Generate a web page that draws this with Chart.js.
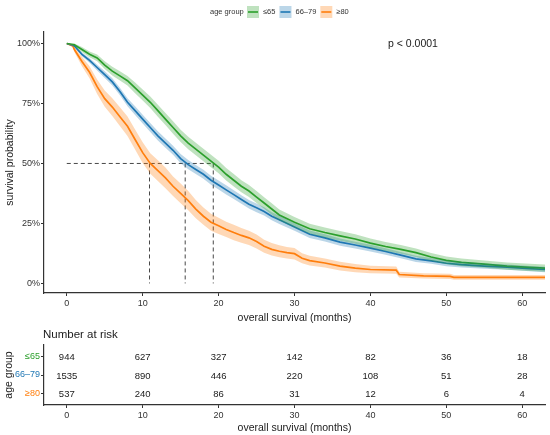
<!DOCTYPE html>
<html>
<head>
<meta charset="utf-8">
<script src="https://cdn.jsdelivr.net/npm/chart.js@4.4.0/dist/chart.umd.min.js"></script>
<style>
  body { margin: 0; background: #fff; }
  #top { position: absolute; left: 0; top: 0; width: 550px; height: 325px; }
  #bottom { position: absolute; left: 0; top: 325px; width: 550px; height: 110px; }
</style>
</head>
<body>
<div id="top"><canvas id="kmChart"></canvas></div>
<div id="bottom"><canvas id="riskChart"></canvas></div>
<script>
var groups = ["≤65", "66–79", "≥80"];
var lineColors = ["#2ca02c", "#1f77b4", "#ff7f0e"];
var bandColors = ["rgba(44,160,44,0.3)", "rgba(31,119,180,0.3)", "rgba(255,127,14,0.3)"];

// ≤65
var timeLe65 = [0, 1, 2, 3, 4, 5, 6, 7, 8, 9, 10, 11, 12, 13, 14, 15, 16, 17, 18, 19, 20, 21, 22, 23, 24, 25, 26, 27, 28, 30, 32, 34, 36, 38, 40, 42, 44, 46, 48, 50, 52, 55, 58, 61, 63];
var survLe65 = [1.0, .995, .975, .955, .94, .91, .885, .865, .845, .815, .785, .755, .72, .685, .65, .615, .585, .56, .535, .51, .485, .455, .43, .405, .385, .36, .335, .31, .285, .255, .228, .212, .198, .185, .168, .154, .142, .128, .11, .096, .088, .08, .072, .067, .064];
var lowerLe65 = [1.0, .99, .965, .943, .926, .894, .867, .846, .825, .793, .762, .731, .695, .66, .624, .589, .559, .534, .509, .484, .459, .429, .404, .38, .36, .335, .311, .286, .262, .233, .207, .191, .178, .165, .149, .135, .124, .11, .093, .08, .072, .065, .057, .052, .049];
var upperLe65 = [1.0, 1.0, .985, .967, .954, .926, .903, .884, .865, .837, .808, .779, .745, .71, .676, .641, .611, .586, .561, .536, .511, .481, .456, .43, .41, .385, .359, .334, .308, .277, .249, .233, .218, .205, .187, .173, .16, .146, .127, .112, .104, .095, .087, .082, .079];

// 66–79
var time6679 = [0, 1, 2, 3, 4, 5, 6, 7, 8, 9, 10, 11, 12, 13, 14, 15, 16, 17, 18, 19, 20, 21, 22, 23, 24, 25, 26, 27, 28, 30, 32, 34, 36, 38, 40, 42, 44, 46, 48, 50, 52, 55, 58, 61, 63];
var surv6679 = [1.0, .99, .955, .93, .9, .87, .84, .8, .755, .72, .685, .65, .615, .585, .555, .52, .495, .475, .455, .43, .41, .39, .37, .35, .33, .315, .3, .28, .265, .235, .205, .19, .172, .16, .147, .133, .118, .102, .094, .084, .078, .072, .068, .062, .058];
var lower6679 = [1.0, .986, .947, .92, .888, .856, .825, .784, .738, .702, .667, .631, .596, .566, .536, .501, .476, .456, .436, .411, .391, .371, .352, .332, .312, .297, .283, .263, .248, .219, .189, .175, .157, .146, .133, .119, .105, .089, .082, .072, .066, .061, .057, .051, .047];
var upper6679 = [1.0, .994, .963, .94, .912, .884, .855, .816, .772, .738, .703, .669, .634, .604, .574, .539, .514, .494, .474, .449, .429, .409, .388, .368, .348, .333, .317, .297, .282, .251, .221, .205, .187, .174, .161, .147, .131, .115, .106, .096, .09, .083, .079, .073, .069];

// ≥80
var timeGe80 = [0, 0.8, 1, 2, 3, 4, 5, 6, 7, 8, 9, 10, 11, 12, 13, 14, 15, 16, 17, 18, 19, 20, 21, 22, 23, 24, 25, 26, 27, 28, 29, 30, 31, 32, 34, 36, 38, 40, 43.4, 43.8, 47, 50.5, 51, 63];
var survGe80 = [1.0, .99, .975, .925, .88, .82, .77, .735, .695, .655, .6, .545, .5, .47, .44, .405, .375, .345, .31, .28, .255, .24, .225, .212, .2, .19, .175, .155, .142, .134, .128, .124, .105, .095, .085, .072, .064, .058, .055, .037, .031, .029, .025, .025];
var lowerGe80 = [1.0, .985, .965, .905, .855, .79, .736, .698, .656, .614, .558, .502, .457, .427, .397, .364, .334, .305, .272, .244, .22, .206, .193, .18, .169, .16, .146, .128, .116, .109, .104, .1, .084, .075, .066, .054, .047, .042, .04, .025, .02, .018, .015, .015];
var upperGe80 = [1.0, .995, .985, .945, .905, .85, .804, .772, .734, .696, .642, .588, .543, .513, .483, .446, .416, .385, .348, .316, .29, .274, .257, .244, .231, .22, .204, .182, .168, .159, .152, .148, .126, .115, .104, .09, .081, .074, .07, .049, .042, .04, .035, .035];

var medianTimes = [19.3, 15.6, 10.9];
var xTicks = [0, 10, 20, 30, 40, 50, 60];
var yTicks = [0, 0.25, 0.5, 0.75, 1];
var pValueText = "p < 0.0001";

var riskTimes = [0, 10, 20, 30, 40, 50, 60];
var riskLe65 = [944, 627, 327, 142, 82, 36, 18];
var risk6679 = [1535, 890, 446, 220, 108, 51, 28];
var riskGe80 = [537, 240, 86, 31, 12, 6, 4];

var FONT = "'Liberation Sans', Arial, sans-serif";
var AXIS = "#333333";

function pts(t, v) {
  return t.map(function (x, i) { return { x: x, y: v[i] }; });
}

var times = [timeLe65, time6679, timeGe80];
var survs = [survLe65, surv6679, survGe80];
var lowers = [lowerLe65, lower6679, lowerGe80];
var uppers = [upperLe65, upper6679, upperGe80];

var datasets = [];
for (var g = 0; g < 3; g++) {
  datasets.push({ data: pts(times[g], uppers[g]), fill: "+1", backgroundColor: bandColors[g], borderWidth: 0, pointRadius: 0 });
  datasets.push({ data: pts(times[g], lowers[g]), fill: false, borderWidth: 0, pointRadius: 0 });
}
for (var g = 0; g < 3; g++) {
  datasets.push({ data: pts(times[g], survs[g]), fill: false, borderColor: lineColors[g], borderWidth: 1.7, pointRadius: 0, tension: 0 });
}
// median guide lines
datasets.push({
  data: [{ x: 0, y: 0.5 }, { x: Math.max.apply(null, medianTimes), y: 0.5 }],
  fill: false, borderColor: AXIS, borderWidth: 0.9, borderDash: [4, 3], pointRadius: 0
});
medianTimes.forEach(function (m) {
  datasets.push({
    data: [{ x: m, y: 0.5 }, { x: m, y: 0 }],
    fill: false, borderColor: AXIS, borderWidth: 0.9, borderDash: [4, 3], pointRadius: 0
  });
});

var kmDecor = {
  id: "kmDecor",
  afterDraw: function (chart) {
    var ctx = chart.ctx;
    ctx.save();
    // legend
    ctx.font = "7.5px " + FONT;
    ctx.textBaseline = "middle";
    ctx.fillStyle = AXIS;
    ctx.fillText("age group", 210, 12);
    var x = 247;
    for (var i = 0; i < groups.length; i++) {
      ctx.fillStyle = bandColors[i];
      ctx.fillRect(x, 6, 12, 12);
      ctx.strokeStyle = lineColors[i];
      ctx.lineWidth = 1.6;
      ctx.beginPath();
      ctx.moveTo(x + 1, 12);
      ctx.lineTo(x + 11, 12);
      ctx.stroke();
      ctx.fillStyle = AXIS;
      ctx.fillText(groups[i], x + 16, 12);
      x += 16 + ctx.measureText(groups[i]).width + 4;
    }
    // p value
    ctx.font = "10.5px " + FONT;
    ctx.fillStyle = "#1a1a1a";
    ctx.fillText(pValueText, 388, 44);
    ctx.restore();
  }
};

new Chart(document.getElementById("kmChart"), {
  type: "line",
  data: { datasets: datasets },
  plugins: [kmDecor],
  options: {
    responsive: true,
    maintainAspectRatio: false,
    animation: false,
    layout: { padding: { top: 32, right: 5, left: 4, bottom: 0 } },
    plugins: { legend: { display: false }, tooltip: { enabled: false } },
    scales: {
      x: {
        type: "linear", min: -3, max: 63,
        afterBuildTicks: function (s) { s.ticks = xTicks.map(function (v) { return { value: v }; }); },
        afterFit: function (s) { s.height = 32; },
        border: { color: AXIS, width: 1.2 },
        grid: { drawOnChartArea: false, color: AXIS, tickLength: 3 },
        ticks: { font: { size: 9, family: FONT }, color: AXIS, padding: 2, maxRotation: 0 },
        title: { display: true, text: "overall survival (months)", font: { size: 10.5, family: FONT }, color: "#1a1a1a", padding: { top: 0, bottom: 1 } }
      },
      y: {
        type: "linear", min: -0.04, max: 1.048,
        afterBuildTicks: function (s) { s.ticks = yTicks.map(function (v) { return { value: v }; }); },
        afterFit: function (s) { s.width = 40; },
        border: { color: AXIS, width: 1.2 },
        grid: { drawOnChartArea: false, color: AXIS, tickLength: 3 },
        ticks: {
          font: { size: 9, family: FONT }, color: AXIS, padding: 1,
          callback: function (v) { return Math.round(v * 100) + "%"; }
        },
        title: { display: true, text: "survival probability", font: { size: 10.5, family: FONT }, color: "#1a1a1a", padding: { top: 0, bottom: 2 } }
      }
    }
  }
});

// risk table
var riskRows = [riskLe65, risk6679, riskGe80];
var riskSets = riskRows.map(function (row, r) {
  return {
    data: riskTimes.map(function (t) { return { x: t, y: r + 1 }; }),
    counts: row, showLine: false, pointRadius: 0
  };
});

var riskText = {
  id: "riskText",
  afterDatasetsDraw: function (chart) {
    var ctx = chart.ctx;
    ctx.save();
    ctx.font = "9.5px " + FONT;
    ctx.fillStyle = "#1a1a1a";
    ctx.textAlign = "center";
    ctx.textBaseline = "middle";
    chart.data.datasets.forEach(function (ds, i) {
      chart.getDatasetMeta(i).data.forEach(function (p, j) {
        ctx.fillText(String(ds.counts[j]), p.x, p.y + 1);
      });
    });
    ctx.textAlign = "left";
    ctx.font = "11.5px " + FONT;
    ctx.fillText("Number at risk", 43, 10);
    ctx.restore();
  }
};

new Chart(document.getElementById("riskChart"), {
  type: "scatter",
  data: { datasets: riskSets },
  plugins: [riskText],
  options: {
    responsive: true,
    maintainAspectRatio: false,
    animation: false,
    layout: { padding: { top: 20, right: 5, left: 3, bottom: 0 } },
    plugins: { legend: { display: false }, tooltip: { enabled: false } },
    scales: {
      x: {
        type: "linear", min: -3, max: 63,
        afterBuildTicks: function (s) { s.ticks = riskTimes.map(function (v) { return { value: v }; }); },
        afterFit: function (s) { s.height = 30; },
        border: { color: AXIS, width: 1.2 },
        grid: { drawOnChartArea: false, color: AXIS, tickLength: 3 },
        ticks: { font: { size: 9, family: FONT }, color: AXIS, padding: 2, maxRotation: 0 },
        title: { display: true, text: "overall survival (months)", font: { size: 10.5, family: FONT }, color: "#1a1a1a", padding: { top: 0, bottom: 1 } }
      },
      y: {
        type: "linear", min: 0.4, max: 3.6, reverse: true,
        afterBuildTicks: function (s) { s.ticks = [1, 2, 3].map(function (v) { return { value: v }; }); },
        afterFit: function (s) { s.width = 41; },
        border: { color: AXIS, width: 1.2 },
        grid: { drawOnChartArea: false, color: AXIS, tickLength: 3 },
        ticks: {
          font: { size: 9, family: FONT }, padding: 1,
          color: function (c) { return lineColors[c.index]; },
          callback: function (v) { return groups[v - 1]; }
        },
        title: { display: true, text: "age group", font: { size: 10.5, family: FONT }, color: "#1a1a1a", padding: { top: 0, bottom: 2 } }
      }
    }
  }
});
</script>
</body>
</html>
